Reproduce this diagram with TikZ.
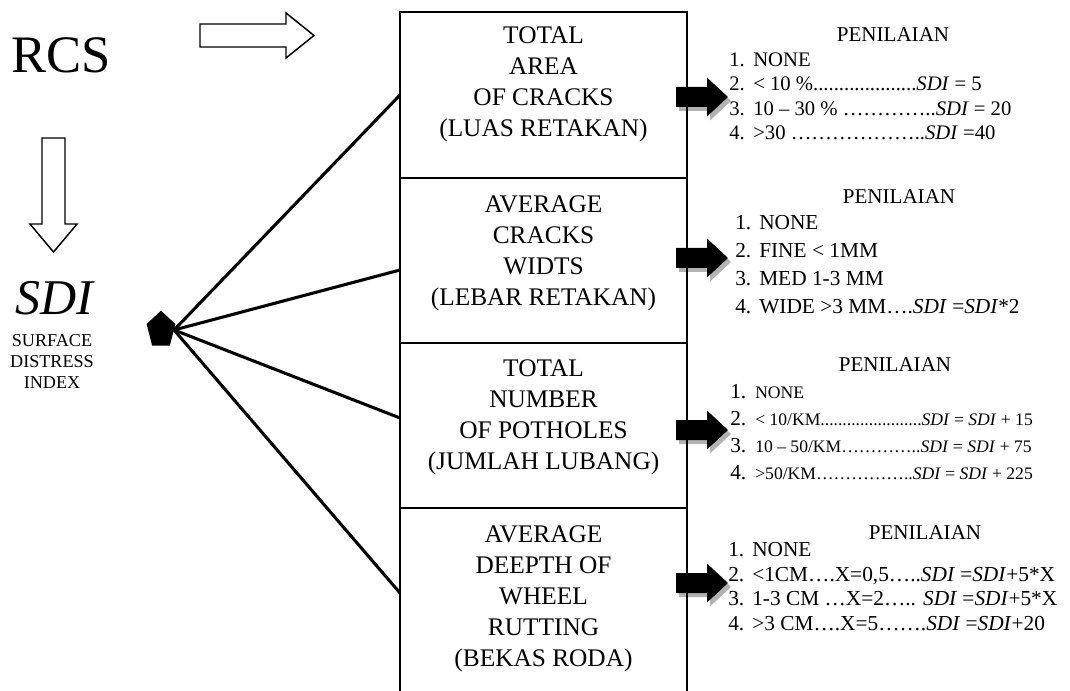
\documentclass[tikz,border=0pt]{standalone}
\usepackage{fontspec}
\setmainfont{Liberation Serif}
\usetikzlibrary{shapes.geometric,shadows}
\tikzstyle{boxtext}=[align=center,font=\fontsize{19}{23.3}\selectfont,inner sep=0pt]
\tikzstyle{heading}=[font=\fontsize{15.8}{17}\selectfont,inner sep=0pt]
\tikzstyle{itemlist}=[align=left,anchor=west,inner sep=0pt]
\tikzstyle{hollowarrow}=[draw,line width=1.1pt,fill=white]
\tikzstyle{blockarrow}=[fill=black,drop shadow={shadow xshift=2.25pt,shadow yshift=-3pt,fill=black!30,opacity=1}]
\tikzstyle{spoke}=[draw,line width=2.3pt]
\newcommand{\nr}[1]{\makebox[18pt][l]{#1.}}
\newcommand{\bignr}[1]{\makebox[18.75pt][l]{\fontsize{16}{16}\selectfont #1.}}
\newcommand{\sdi}{\textit{SDI}}
\begin{document}
\begin{tikzpicture}[x=0.75pt,y=-0.75pt]
    \useasboundingbox (0,0) rectangle (1070,691);

    % left side: RCS -> SDI
    \node[font=\fontsize{39.5}{45}\selectfont,anchor=base,inner sep=0pt] (rcs) at (61.5,73) {RCS};
    \node[font=\fontsize{37.5}{40}\selectfont\itshape,anchor=base,inner sep=0pt] (sdi) at (54,315) {SDI};
    \node[font=\fontsize{13.6}{15.75}\selectfont,align=center,anchor=north,inner sep=0pt] (sdiname) at (52,334) {SURFACE\\DISTRESS\\INDEX};

    \draw[hollowarrow] (200,24) -- (286,24) -- (286,13) -- (314,35.5) -- (286,58) -- (286,47) -- (200,47) -- cycle;
    \draw[hollowarrow] (42,138) -- (65,138) -- (65,224) -- (77,224) -- (53.5,252) -- (30,224) -- (42,224) -- cycle;

    % black arrows with shadow
    \foreach \ty in {97,258,430,583}
        \fill[blockarrow] (676,\ty-10) -- (707,\ty-10) -- (707,\ty-19.5) -- (728,\ty) -- (707,\ty+19.5) -- (707,\ty+10) -- (676,\ty+10) -- cycle;

    % column of criteria
    \draw[line width=1.6pt] (400,691) -- (400,12) -- (687,12) -- (687,691);
    \foreach \y in {178,343,508}
        \draw[line width=1.1pt] (400,\y) -- (687,\y);

    \foreach \pos/\name/\txt in {{(543.5,84)/area/{TOTAL\\AREA\\OF CRACKS\\(LUAS RETAKAN)}},
                                 {(543.5,253)/width/{AVERAGE\\CRACKS\\WIDTS\\(LEBAR RETAKAN)}},
                                 {(543.5,417)/holes/{TOTAL\\NUMBER\\OF POTHOLES\\(JUMLAH LUBANG)}},
                                 {(543.5,599)/rut/{AVERAGE\\DEEPTH OF\\WHEEL\\RUTTING\\(BEKAS RODA)}}}
        \node[boxtext] (\name) at \pos {\txt};

    % pentagon and spokes
    \foreach \y [count=\i] in {95,270,418,593}
        \coordinate (c\i) at (400,\y);
    \node[regular polygon,regular polygon sides=5,fill=black,inner sep=0pt,minimum size=29pt,xscale=0.78,transform shape] (pent) at (161,330) {};
    \foreach \i in {1,...,4}
        \path[spoke] (pent.east) -- (c\i);

    % scoring
    \foreach \pos/\name in {{(893,35)/pen1},{(899,197)/pen2},{(895,365)/pen3},{(925,533)/pen4}}
        \node[heading] (\name) at \pos {PENILAIAN};

    \node[itemlist,font=\fontsize{15.5}{18.4}\selectfont] (list1) at (729,96.5)
        {\nr{1}NONE\\\nr{2}< 10 \%....................\sdi{} = 5\\\nr{3}10 – 30 \% …………..\sdi{} = 20\\\nr{4}>30 ………………..\sdi{} =40};
    \node[itemlist,font=\fontsize{16}{21}\selectfont] (list2) at (735,265)
        {\nr{1}NONE\\\nr{2}FINE < 1MM\\\nr{3}MED 1-3 MM\\\nr{4}WIDE >3 MM….\sdi{} =\sdi*2};
    \node[itemlist,font=\fontsize{13.2}{20.2}\selectfont] (list3) at (730,432.5)
        {\bignr{1}NONE\\\bignr{2}< 10/KM.......................\sdi{} = \sdi{} + 15\\\bignr{3}10 – 50/KM…………..\sdi{} = \sdi{} + 75\\\bignr{4}>50/KM……………..\sdi{} = \sdi{} + 225};
    \node[itemlist,font=\fontsize{16}{18.4}\selectfont] (list4) at (728,586.5)
        {\nr{1}NONE\\\nr{2}<1CM….X=0,5…..\sdi{} =\sdi+5*X\\\nr{3}1-3 CM …X=2….. \sdi{} =\sdi+5*X\\\nr{4}>3 CM….X=5…….\sdi{} =\sdi+20};
\end{tikzpicture}
\end{document}
